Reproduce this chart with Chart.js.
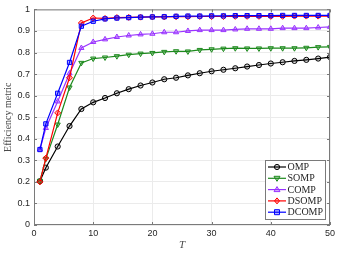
<!DOCTYPE html>
<html>
<head>
<meta charset="utf-8">
<script src="https://cdn.jsdelivr.net/npm/chart.js@4"></script>
<style>
  html, body { margin: 0; padding: 0; background: #fff; }
  #wrap { width: 341px; height: 256px; }
</style>
</head>
<body>
<div id="wrap"><canvas id="eff" width="341" height="256"></canvas></div>
<script>
// valeurs
const T = [1, 2, 4, 6, 8, 10, 12, 14, 16, 18, 20, 22, 24, 26, 28, 30, 32, 34, 36, 38, 40, 42, 44, 46, 48, 50]
const omp = [0.203, 0.266, 0.364, 0.459, 0.538, 0.569, 0.589, 0.611, 0.630, 0.647, 0.661, 0.676, 0.683, 0.694, 0.704, 0.713, 0.720, 0.727, 0.735, 0.742, 0.749, 0.755, 0.761, 0.766, 0.772, 0.779]
const somp = [0.205, 0.307, 0.466, 0.638, 0.752, 0.772, 0.777, 0.783, 0.790, 0.795, 0.798, 0.803, 0.806, 0.805, 0.812, 0.815, 0.818, 0.820, 0.819, 0.819, 0.820, 0.820, 0.820, 0.822, 0.825, 0.826]
const comp = [0.350, 0.450, 0.573, 0.703, 0.821, 0.849, 0.861, 0.872, 0.879, 0.884, 0.887, 0.894, 0.894, 0.900, 0.904, 0.904, 0.904, 0.907, 0.910, 0.910, 0.910, 0.913, 0.913, 0.913, 0.916, 0.919]
const dsomp = [0.200, 0.310, 0.520, 0.683, 0.937, 0.960, 0.958, 0.962, 0.963, 0.964, 0.965, 0.965, 0.966, 0.966, 0.967, 0.967, 0.967, 0.968, 0.968, 0.968, 0.968, 0.968, 0.969, 0.969, 0.969, 0.969]
const dcomp = [0.350, 0.469, 0.611, 0.754, 0.922, 0.945, 0.956, 0.960, 0.962, 0.964, 0.965, 0.966, 0.968, 0.969, 0.969, 0.970, 0.970, 0.971, 0.971, 0.971, 0.971, 0.972, 0.972, 0.972, 0.972, 0.972]

const xTicks = [0, 10, 20, 30, 40, 50]
const yTicks = [0, 0.1, 0.2, 0.3, 0.4, 0.5, 0.6, 0.7, 0.8, 0.9, 1]

const names = ['OMP', 'SOMP', 'COMP', 'DSOMP', 'DCOMP']
const couleurs = ['#000000', '#1d8a1d', '#9933ff', '#ff0000', '#0000ff']
const fonds = ['rgba(0,0,0,0.15)', 'rgba(29,138,29,0.3)', 'rgba(153,51,255,0.3)', 'rgba(255,0,0,0.3)', 'rgba(0,0,255,0.3)']
const formes = ['circle', 'triangle', 'triangle', 'rectRot', 'rect']
const rotations = [0, 180, 0, 0, 0]
const series = [omp, somp, comp, dsomp, dcomp]

function points(vals) {
    return T.map((t, i) => ({ x: t, y: vals[i] }))
}

// dessin des marqueurs pour la legende
function marqueur(ctx, i, x, y) {
    ctx.save()
    ctx.strokeStyle = couleurs[i]
    ctx.fillStyle = fonds[i]
    ctx.lineWidth = 1
    ctx.beginPath()
    if (i === 0) {
        ctx.arc(x, y, 2.6, 0, Math.PI * 2)
    } else if (i === 1) {
        ctx.moveTo(x - 3, y - 2); ctx.lineTo(x + 3, y - 2); ctx.lineTo(x, y + 3); ctx.closePath()
    } else if (i === 2) {
        ctx.moveTo(x - 3, y + 2); ctx.lineTo(x + 3, y + 2); ctx.lineTo(x, y - 3); ctx.closePath()
    } else if (i === 3) {
        ctx.moveTo(x, y - 3); ctx.lineTo(x + 2.5, y); ctx.lineTo(x, y + 3); ctx.lineTo(x - 2.5, y); ctx.closePath()
    } else {
        ctx.rect(x - 2.5, y - 2.5, 5, 5)
    }
    ctx.fill()
    ctx.stroke()
    ctx.restore()
}

const cadre = {
    id: 'cadre',
    afterDatasetsDraw(chart) {
        const ctx = chart.ctx
        const a = chart.chartArea
        const sx = chart.scales.x
        const sy = chart.scales.y
        ctx.save()
        ctx.strokeStyle = '#7a7a7a'
        ctx.lineWidth = 1
        ctx.strokeRect(a.left + 0.5, a.top + 0.5, a.right - a.left - 1, a.bottom - a.top - 1)
        ctx.beginPath()
        xTicks.forEach(t => {
            const px = Math.round(sx.getPixelForValue(t)) + 0.5
            ctx.moveTo(px, a.bottom); ctx.lineTo(px, a.bottom - 3)
            ctx.moveTo(px, a.top); ctx.lineTo(px, a.top + 3)
        })
        yTicks.forEach(t => {
            const py = Math.round(sy.getPixelForValue(t)) + 0.5
            ctx.moveTo(a.left, py); ctx.lineTo(a.left + 3, py)
            ctx.moveTo(a.right, py); ctx.lineTo(a.right - 3, py)
        })
        ctx.stroke()

        // titres des axes
        ctx.fillStyle = '#4a4a4a'
        ctx.font = '10px "Liberation Serif"'
        ctx.textAlign = 'center'
        ctx.textBaseline = 'middle'
        ctx.save()
        ctx.translate(8, (a.top + a.bottom) / 2)
        ctx.rotate(-Math.PI / 2)
        ctx.fillText('Efficiency metric', 0, 0)
        ctx.restore()
        ctx.font = 'italic 11px "Liberation Serif"'
        ctx.fillText('T', (a.left + a.right) / 2, 245)

        // legende
        const lx = 265, ly = 160, lw = 60, lh = 59
        ctx.fillStyle = '#ffffff'
        ctx.fillRect(lx, ly, lw, lh)
        ctx.strokeStyle = '#7a7a7a'
        ctx.strokeRect(lx + 0.5, ly + 0.5, lw, lh)
        ctx.font = '10px "Liberation Serif"'
        ctx.textAlign = 'left'
        names.forEach((n, i) => {
            const y = ly + 7 + i * 11.3
            ctx.strokeStyle = couleurs[i]
            ctx.lineWidth = 1.2
            ctx.beginPath()
            ctx.moveTo(lx + 3, y); ctx.lineTo(lx + 21, y)
            ctx.stroke()
            marqueur(ctx, i, lx + 12, y)
            ctx.fillStyle = '#262626'
            ctx.fillText(n, lx + 22.5, y + 0.5)
        })
        ctx.restore()
    }
}

new Chart(
    document.getElementById('eff'),
    {
        type: 'line',
        data: {
            datasets: series.map((s, i) => ({
                label: names[i],
                data: points(s),
                borderColor: couleurs[i],
                backgroundColor: fonds[i],
                borderWidth: 1.2,
                pointStyle: formes[i],
                pointRotation: rotations[i],
                pointRadius: i === 0 ? 2.6 : 3,
                pointBorderWidth: 1,
                pointBorderColor: couleurs[i],
                pointBackgroundColor: fonds[i],
                tension: 0,
                fill: false,
                order: 5 - i
            }))
        },
        options: {
            responsive: false,
            animation: false,
            events: [],
            layout: { padding: { top: 7, right: 11, left: 0, bottom: 0 } },
            scales: {
                x: {
                    type: 'linear',
                    min: 0,
                    max: 50,
                    afterBuildTicks: s => { s.ticks = xTicks.map(v => ({ value: v })) },
                    afterFit: s => { s.height = 31 },
                    border: { display: false },
                    grid: { color: '#ebebeb', drawTicks: false },
                    ticks: {
                        color: '#262626',
                        font: { family: 'Liberation Sans', size: 9 },
                        padding: 3,
                        maxRotation: 0
                    }
                },
                y: {
                    min: 0,
                    max: 1,
                    afterBuildTicks: s => { s.ticks = yTicks.map(v => ({ value: v })) },
                    afterFit: s => { s.width = 34 },
                    border: { display: false },
                    grid: { color: '#ebebeb', drawTicks: false },
                    ticks: {
                        color: '#262626',
                        font: { family: 'Liberation Sans', size: 9 },
                        padding: 4,
                        callback: v => String(Math.round(v * 10) / 10)
                    }
                }
            },
            plugins: {
                legend: { display: false },
                tooltip: { enabled: false }
            }
        },
        plugins: [cadre]
    }
);
</script>
</body>
</html>
